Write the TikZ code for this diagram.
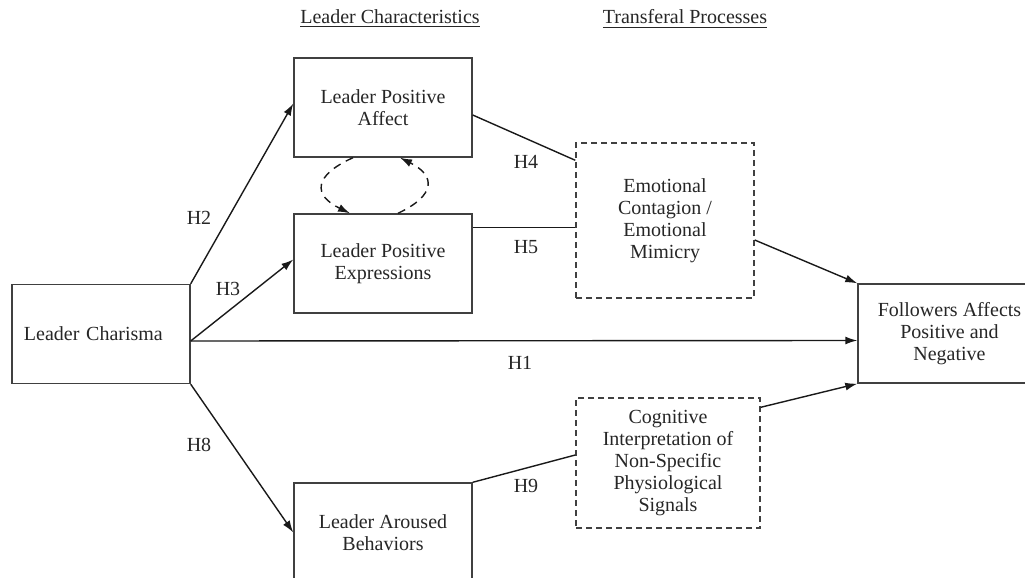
\documentclass[tikz,border=0pt]{standalone}
\usepackage{fontspec}
\setmainfont{Liberation Serif}
\usetikzlibrary{arrows.meta, calc}

\begin{document}
\begin{tikzpicture}[
    x=0.5pt, y=-0.5pt,
    construct/.style={rectangle, draw=black!75, line width=0.7pt, minimum width=89pt, minimum height=49.5pt, align=center, inner sep=2pt, font=\fontsize{10}{11}\selectfont, text=black!85},
    process/.style={construct, dash pattern=on 3pt off 2pt},
    heading/.style={font=\fontsize{10}{11}\selectfont, text=black!85},
    hyp/.style={font=\fontsize{10}{11}\selectfont, text=black!85},
    link/.style={draw=black!90, line width=0.7pt},
    arrow/.style={link, -{Latex[length=6pt, width=4pt]}},
    feedback/.style={arrow, dash pattern=on 4pt off 3pt}
]

% page frame
\useasboundingbox (0,0) rectangle (1025,578);
\clip (0,0) rectangle (1025,578);

% ============= HEADINGS =============
\node[heading] (charhead) at (390,19) {\underline{Leader Characteristics}};
\node[heading] (prochead) at (685,19) {\underline{Transferal Processes}};

% ============= CONSTRUCTS =============
\node[construct, align=left, inner xsep=6pt, text width=77pt] (lc) at (101,334) {Leader Charisma\\[3pt]};
\node[construct] (lpa) at (383,107.5) {Leader Positive\\Affect};
\node[construct] (lpe) at (383,263.5) {Leader Positive\\Expressions};
\node[construct] (lab) at (383,532.5) {Leader Aroused\\Behaviors};
\node[construct, minimum width=91.5pt] (fol) at (949.5,333.5) {Followers Affects\\Positive and\\Negative};

% Transferal processes (dashed)
\node[process, minimum height=77.5pt] (ec) at (665,220.5) {Emotional\\Contagion /\\Emotional\\Mimicry};
\node[process, minimum width=92pt, minimum height=65pt] (cog) at (668,463) {Cognitive\\Interpretation of\\Non-Specific\\Physiological\\Signals};

% ============= PATHS =============
\draw[arrow] (lc.north east) -- ([yshift=2pt]lpa.west);
\draw[arrow] ([yshift=-3.5pt]lc.east) -- ([yshift=2pt]lpe.west);
\draw[arrow] ([yshift=-3.5pt]lc.east) -- ([yshift=-3.5pt]fol.west);
\draw[arrow] (lc.south east) -- (lab.west);

\draw[link] ([yshift=-3.75pt]lpa.east) -- ([yshift=-9pt]ec.north west);
\draw[link] ([yshift=-7pt]lpe.north east) -- ([yshift=-7pt]lpe.north east -| ec.west);
\draw[link] (lab.north east) -- ([yshift=4pt]cog.west);

\draw[arrow] ([yshift=-9.75pt]ec.east) -- (fol.north west);
\draw[arrow] ([yshift=-5pt]cog.north east) -- (fol.south west);

% affect <-> expressions
\draw[feedback] ([xshift=-15pt]lpa.south) .. controls +(-40,18) and +(-37,-18) .. ([xshift=-16.5pt]lpe.north);
\draw[feedback] ([xshift=7.5pt]lpe.north) .. controls +(38,-18) and +(36,18) .. ([xshift=8.5pt]lpa.south);

% Hypothesis labels
\node[hyp] (h1) at (520,363) {H1};
\node[hyp] (h2) at (199,218) {H2};
\node[hyp] (h3) at (228,289) {H3};
\node[hyp] (h4) at (526,162) {H4};
\node[hyp] (h5) at (526,247) {H5};
\node[hyp] (h8) at (199,445) {H8};
\node[hyp] (h9) at (526,486) {H9};

\end{tikzpicture}
\end{document}
